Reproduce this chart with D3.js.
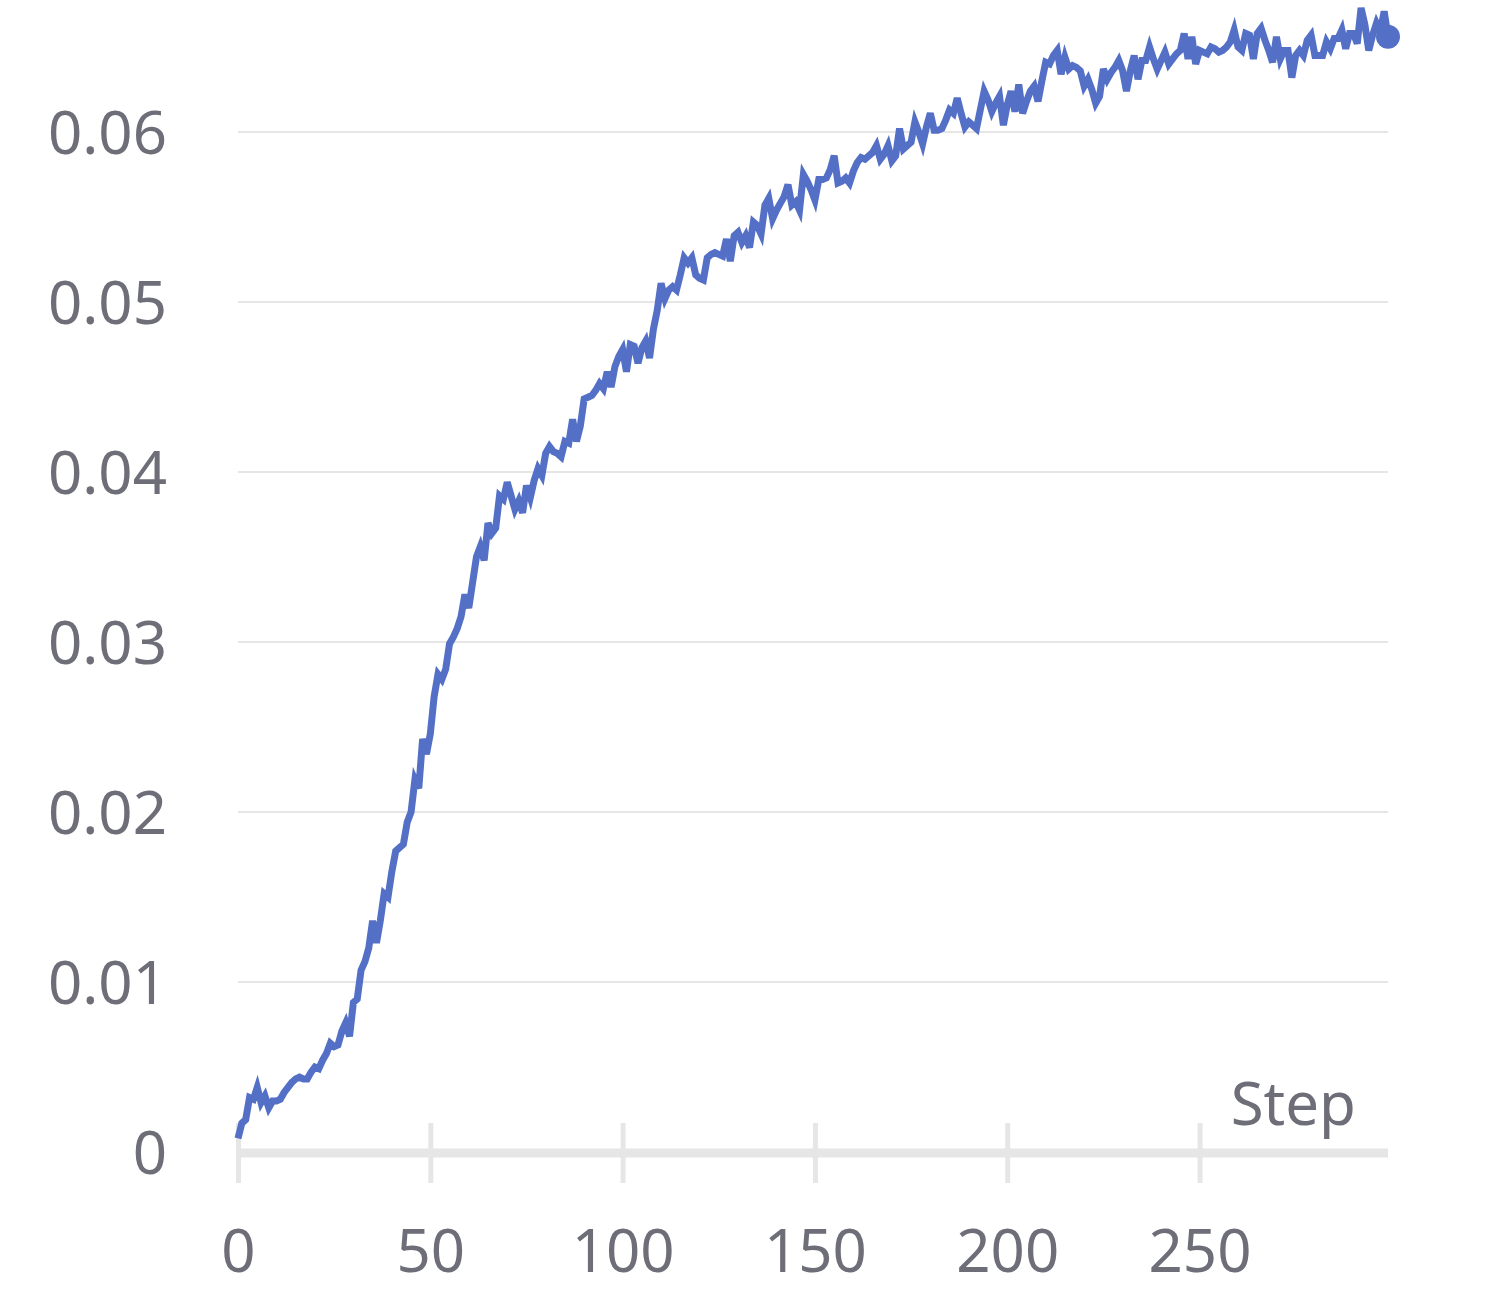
<!DOCTYPE html>
<html>
<head>
<meta charset="utf-8">
<script src="https://cdn.jsdelivr.net/npm/d3@7"></script>
<style>
  body { margin: 0; background: #fff; }
  svg { display: block; font-family: "Noto Sans", "Open Sans", sans-serif; }
</style>
</head>
<body>
<svg width="1503" height="1296"></svg>
<script>
// values, one per step (0..299)
var values = [
  0.0008, 0.0017, 0.0019, 0.0032, 0.0031, 0.0038, 0.0029, 0.0033, 0.0026, 0.0030,
  0.0030, 0.0031, 0.0035, 0.0038, 0.0041, 0.0043, 0.0044, 0.0043, 0.0043, 0.0047,
  0.0050, 0.0049, 0.0054, 0.0058, 0.0064, 0.0062, 0.0063, 0.0071, 0.0076, 0.0068,
  0.0088, 0.0090, 0.0107, 0.0112, 0.0120, 0.0136, 0.0123, 0.0136, 0.0152, 0.0150,
  0.0165, 0.0177, 0.0179, 0.0181, 0.0194, 0.0200, 0.0219, 0.0214, 0.0243, 0.0234,
  0.0246, 0.0268, 0.0281, 0.0278, 0.0284, 0.0299, 0.0303, 0.0308, 0.0315, 0.0328,
  0.0320, 0.0335, 0.0350, 0.0356, 0.0348, 0.0370, 0.0364, 0.0367, 0.0386, 0.0384,
  0.0394, 0.0386, 0.0378, 0.0383, 0.0376, 0.0392, 0.0385, 0.0395, 0.0402, 0.0398,
  0.0411, 0.0415, 0.0412, 0.0411, 0.0409, 0.0418, 0.0417, 0.0431, 0.0418, 0.0427,
  0.0443, 0.0444, 0.0445, 0.0448, 0.0452, 0.0449, 0.0459, 0.0450, 0.0462, 0.0468,
  0.0472, 0.0459, 0.0475, 0.0474, 0.0464, 0.0473, 0.0477, 0.0467, 0.0484, 0.0495,
  0.0511, 0.0502, 0.0507, 0.0509, 0.0507, 0.0516, 0.0526, 0.0523, 0.0526, 0.0516,
  0.0514, 0.0513, 0.0526, 0.0528, 0.0529, 0.0528, 0.0527, 0.0537, 0.0524, 0.0539,
  0.0541, 0.0535, 0.0539, 0.0532, 0.0547, 0.0545, 0.0540, 0.0557, 0.0561, 0.0549,
  0.0554, 0.0558, 0.0562, 0.0569, 0.0557, 0.0559, 0.0554, 0.0575, 0.0571, 0.0566,
  0.0560, 0.0572, 0.0572, 0.0573, 0.0578, 0.0586, 0.0570, 0.0571, 0.0573, 0.0570,
  0.0577, 0.0582, 0.0585, 0.0584, 0.0586, 0.0588, 0.0592, 0.0584, 0.0587, 0.0592,
  0.0583, 0.0586, 0.0602, 0.0590, 0.0592, 0.0594, 0.0606, 0.0600, 0.0593, 0.0603,
  0.0611, 0.0601, 0.0601, 0.0602, 0.0607, 0.0613, 0.0611, 0.0620, 0.0611, 0.0603,
  0.0606, 0.0604, 0.0602, 0.0613, 0.0624, 0.0619, 0.0612, 0.0617, 0.0621, 0.0604,
  0.0616, 0.0624, 0.0612, 0.0628, 0.0611, 0.0618, 0.0624, 0.0627, 0.0618, 0.0630,
  0.0641, 0.0640, 0.0645, 0.0648, 0.0634, 0.0644, 0.0637, 0.0639, 0.0638, 0.0636,
  0.0627, 0.0631, 0.0625, 0.0617, 0.0621, 0.0637, 0.0631, 0.0635, 0.0638, 0.0642,
  0.0636, 0.0624, 0.0636, 0.0645, 0.0631, 0.0642, 0.0642, 0.0650, 0.0643, 0.0637,
  0.0642, 0.0647, 0.0640, 0.0643, 0.0646, 0.0648, 0.0658, 0.0643, 0.0656, 0.0640,
  0.0648, 0.0647, 0.0646, 0.0650, 0.0649, 0.0647, 0.0648, 0.0650, 0.0653, 0.0660,
  0.0650, 0.0648, 0.0658, 0.0657, 0.0643, 0.0658, 0.0661, 0.0654, 0.0648, 0.0641,
  0.0656, 0.0643, 0.0648, 0.0648, 0.0632, 0.0645, 0.0648, 0.0645, 0.0654, 0.0657,
  0.0645, 0.0645, 0.0645, 0.0653, 0.0649, 0.0655, 0.0655, 0.0660, 0.0649, 0.0658,
  0.0658, 0.0652, 0.0673, 0.0663, 0.0648, 0.0657, 0.0664, 0.0659, 0.0671, 0.0656
];
var steps = values.map(function(d, i) { return i; });

var xTicks = [0, 50, 100, 150, 200, 250];
var yTicks = [0, 0.01, 0.02, 0.03, 0.04, 0.05, 0.06];
var xName = "Step";

var lineColor = "#5470c6";
var gridColor = "#e6e6e6";
var textColor = "#6e6e79";

var svg = d3.select("svg");

var x = d3.scaleLinear().domain([0, 299]).range([238, 1388]);
var y = d3.scaleLinear().domain([0, 0.06]).range([1152, 132]);

// grid lines
svg.append("g")
  .selectAll("line")
  .data(yTicks.filter(function(d) { return d > 0; }))
  .enter()
  .append("line")
  .attr("x1", x(0))
  .attr("x2", x(299))
  .attr("y1", function(d) { return y(d); })
  .attr("y2", function(d) { return y(d); })
  .attr("stroke", gridColor)
  .attr("stroke-width", 2);

// y axis labels
var yAxis = d3.axisLeft(y)
  .tickValues(yTicks)
  .tickSize(0)
  .tickPadding(71)
  .tickFormat(function(d) { return d === 0 ? "0" : d3.format(".2f")(d); });

var gy = svg.append("g")
  .attr("transform", "translate(" + x(0) + ",0)")
  .call(yAxis);
gy.select(".domain").remove();
gy.selectAll("text")
  .attr("font-size", 60)
  .attr("font-family", "Noto Sans")
  .attr("fill", textColor)
  .attr("dy", "0.36em");

// x axis
var xAxis = d3.axisBottom(x)
  .tickValues(xTicks)
  .tickSize(30);

var gx = svg.append("g")
  .attr("transform", "translate(0," + y(0) + ")")
  .call(xAxis);
gx.select(".domain").remove();
gx.insert("line", ":first-child")
  .attr("x1", x(0))
  .attr("x2", x(299))
  .attr("y1", 1)
  .attr("y2", 1)
  .attr("stroke", gridColor)
  .attr("stroke-width", 9);
gx.selectAll(".tick line")
  .attr("y1", -29)
  .attr("y2", 31)
  .attr("stroke", gridColor)
  .attr("stroke-width", 5);
gx.selectAll(".tick text")
  .attr("y", 120)
  .attr("dy", 0)
  .attr("font-size", 60)
  .attr("font-family", "Noto Sans")
  .attr("fill", textColor);

svg.append("text")
  .attr("x", 1356)
  .attr("y", 1125)
  .attr("text-anchor", "end")
  .attr("font-size", 60)
  .attr("fill", textColor)
  .text(xName);

// the series
var line = d3.line()
  .x(function(d) { return x(d); })
  .y(function(d) { return y(values[d]); });

svg.append("path")
  .datum(steps)
  .attr("d", line)
  .attr("fill", "none")
  .attr("stroke", lineColor)
  .attr("stroke-width", 7)
  .attr("stroke-linejoin", "miter");

var last = steps.length - 1;
svg.append("circle")
  .attr("cx", x(last))
  .attr("cy", y(values[last]))
  .attr("r", 12)
  .attr("fill", lineColor);
</script>
</body>
</html>
